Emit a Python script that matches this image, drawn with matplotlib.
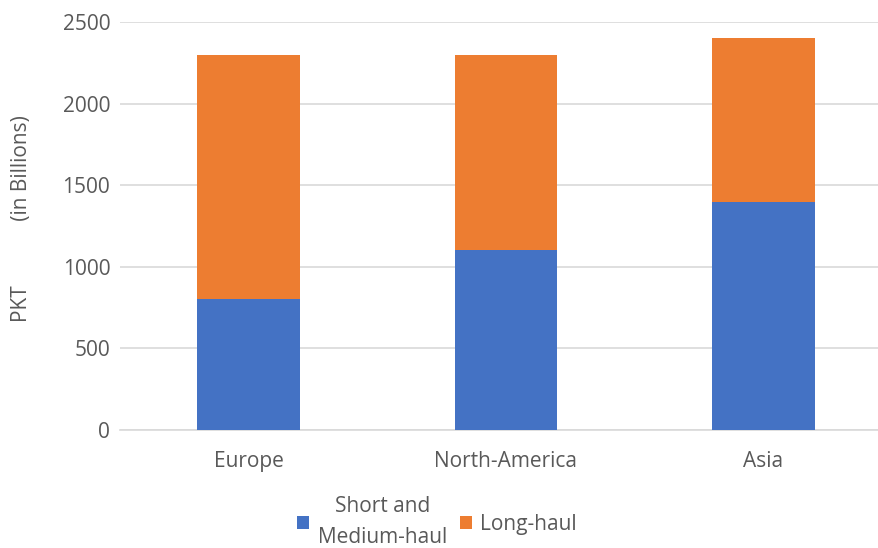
import matplotlib.pyplot as plt

regions = ['Europe', 'North-America', 'Asia']
short_medium = [800, 1100, 1400]
long_haul = [1500, 1200, 1000]
series_labels = ['Short and\nMedium-haul', 'Long-haul']

blue = '#4472C4'
orange = '#ED7D31'
text_grey = '#595959'

plt.rcParams['font.family'] = ['Open Sans', 'DejaVu Sans']
fs = 15

fig = plt.figure(figsize=(8.79, 5.48), dpi=100)
# plot area runs a bit past the right edge of the canvas
ax = fig.add_axes([120 / 879, 1 - 430 / 548, 772 / 879, 408 / 548])

x = range(len(regions))
b1 = ax.bar(x, short_medium, width=0.4, color=blue, label=series_labels[0], zorder=3)
b2 = ax.bar(x, long_haul, width=0.4, bottom=short_medium, color=orange,
            label=series_labels[1], zorder=3)

ax.set_xlim(-0.5, len(regions) - 0.5)
ax.set_ylim(0, 2500)
ax.set_yticks(range(0, 2501, 500))
ax.set_xticks(list(x))
ax.set_xticklabels(regions)

ax.grid(axis='y', color='#D9D9D9', linewidth=1.2, zorder=0)
for side in ['top', 'right', 'left']:
    ax.spines[side].set_visible(False)
ax.spines['bottom'].set_color('#D9D9D9')
ax.spines['bottom'].set_linewidth(1.2)
ax.tick_params(axis='both', length=0, labelsize=fs, colors=text_grey)
ax.tick_params(axis='y', pad=7)
ax.tick_params(axis='x', pad=15)

fig.text(22 / 879, 1 - 219 / 548, 'PKT            (in Billions)', rotation=90,
         ha='center', va='center', fontsize=fs, color=text_grey)

leg = fig.legend(handles=[b1, b2], loc='center', bbox_to_anchor=(437 / 879, 1 - 522 / 548),
                 ncol=2, frameon=False, fontsize=fs, handlelength=0.6, handleheight=0.6,
                 handletextpad=0.4, columnspacing=0.6)
for t in leg.get_texts():
    t.set_color(text_grey)
    t.set_multialignment('center')
    t.set_linespacing(1.6)

fig.savefig('out.png', dpi=100)
